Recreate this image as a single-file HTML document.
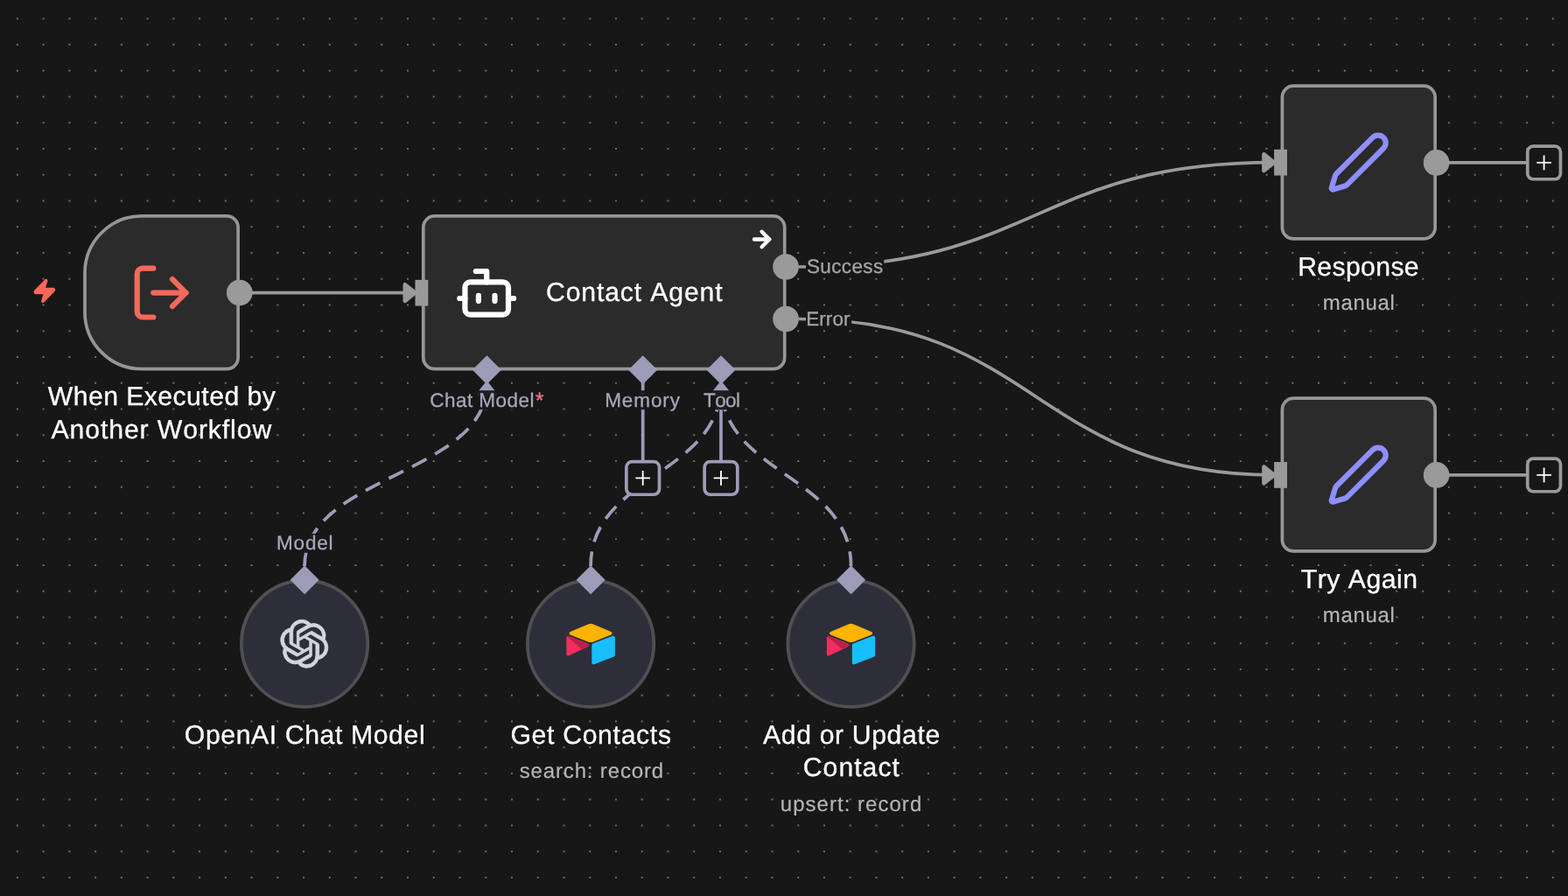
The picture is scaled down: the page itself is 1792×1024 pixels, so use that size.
<!DOCTYPE html>
<html lang="en">
<head>
<meta charset="utf-8">
<title>Contact Agent workflow</title>
<style>
html,body{margin:0;padding:0;background:#171717;overflow:hidden}
body{width:1792px;height:1024px;font-family:"Liberation Sans", Arial, sans-serif}
svg{display:block;will-change:transform}
.txt{will-change:transform}
text{font-family:"Liberation Sans", Arial, sans-serif;font-kerning:none;white-space:pre;text-rendering:geometricPrecision}
</style>
</head>
<body>
<svg width="1792" height="1024" viewBox="0 0 1792 1024">
<defs>
<pattern id="dots" x="4.98" y="6.43" width="29.745" height="29.745" patternUnits="userSpaceOnUse"><circle cx="14.87" cy="14.87" r="1.0" fill="#8a8a8a"/></pattern>
</defs>
<rect width="1792" height="1024" fill="#171717"/>
<rect width="1792" height="1024" fill="url(#dots)"/>
<g fill="none" stroke-width="3.72">
<path d="M287.94,334.53 L474.46,334.53" stroke="#9a9a9a"/>
<path d="M912.97,305 C1184.54,305 1184.54,185.7 1456.11,185.7" stroke="#9a9a9a"/>
<path d="M912.97,364.5 C1184.54,364.5 1184.54,542.9 1456.11,542.9" stroke="#9a9a9a"/>
<path d="M1642.01,185.8 L1745,185.8" stroke="#9a9a9a"/>
<path d="M1642.01,542.9 L1745,542.9" stroke="#9a9a9a"/>
<path d="M348.1,646.9 C348.1,542.8 556.4,542.8 556.4,438.7" stroke="#9c9cb8" stroke-dasharray="18.59 11.15" stroke-dashoffset="1.86"/>
<path d="M675.1,646.9 C675.1,542.8 824,542.8 824,438.7" stroke="#9c9cb8" stroke-dasharray="18.59 11.15" stroke-dashoffset="1.86"/>
<path d="M972.6,646.9 C972.6,542.8 824,542.8 824,438.7" stroke="#9c9cb8" stroke-dasharray="18.59 11.15" stroke-dashoffset="1.86"/>
<path d="M734.7,436.7 L734.7,527" stroke="#9c9cb8"/>
<path d="M824,436.7 L824,527" stroke="#9c9cb8"/>
</g>
<polyline transform="translate(474.46,334.53) rotate(0)" points="-11.62,-9.29 0,0 -11.62,9.29 -11.62,-9.29" fill="#9a9a9a" stroke="#9a9a9a" stroke-width="4.65" stroke-linecap="round" stroke-linejoin="round"/>
<polyline transform="translate(1456.11,185.7) rotate(0)" points="-11.62,-9.29 0,0 -11.62,9.29 -11.62,-9.29" fill="#9a9a9a" stroke="#9a9a9a" stroke-width="4.65" stroke-linecap="round" stroke-linejoin="round"/>
<polyline transform="translate(1456.11,542.9) rotate(0)" points="-11.62,-9.29 0,0 -11.62,9.29 -11.62,-9.29" fill="#9a9a9a" stroke="#9a9a9a" stroke-width="4.65" stroke-linecap="round" stroke-linejoin="round"/>
<polyline transform="translate(556.4,438.7) rotate(-90)" points="-11.62,-9.29 0,0 -11.62,9.29 -11.62,-9.29" fill="#9c9cb8" stroke="#9c9cb8" stroke-width="4.65" stroke-linecap="round" stroke-linejoin="round"/>
<polyline transform="translate(824,438.7) rotate(-90)" points="-11.62,-9.29 0,0 -11.62,9.29 -11.62,-9.29" fill="#9c9cb8" stroke="#9c9cb8" stroke-width="4.65" stroke-linecap="round" stroke-linejoin="round"/>
<rect x="715.86" y="527.56" width="37.68" height="37.68" rx="6.54" fill="#171717" stroke="#9c9cb8" stroke-width="3.72"/>
<path d="M726.4,546.4 H743 M734.7,538.1 V554.7" stroke="#ffffff" stroke-width="1.85" fill="none"/>
<rect x="805.16" y="527.56" width="37.68" height="37.68" rx="6.54" fill="#171717" stroke="#9c9cb8" stroke-width="3.72"/>
<path d="M815.7,546.4 H832.3 M824,538.1 V554.7" stroke="#ffffff" stroke-width="1.85" fill="none"/>
<rect x="1745.76" y="167.06" width="37.68" height="37.68" rx="6.54" fill="#171717" stroke="#9a9a9a" stroke-width="3.72"/>
<path d="M1756.3,185.9 H1772.9 M1764.6,177.6 V194.2" stroke="#ffffff" stroke-width="1.85" fill="none"/>
<rect x="1745.76" y="524.06" width="37.68" height="37.68" rx="6.54" fill="#171717" stroke="#9a9a9a" stroke-width="3.72"/>
<path d="M1756.3,542.9 H1772.9 M1764.6,534.6 V551.2" stroke="#ffffff" stroke-width="1.85" fill="none"/>
<path d="M162.02,246.96 H259.09 A13.01,13.01 0 0 1 272.11,259.97 V408.69 A13.01,13.01 0 0 1 259.09,421.7 H162.02 A65.07,65.07 0 0 1 96.96,356.64 V312.02 A65.07,65.07 0 0 1 162.02,246.96 Z" fill="#2b2b2b" stroke="#969696" stroke-width="3.72"/>
<path d="M496.77,246.96 H883.73 A13.01,13.01 0 0 1 896.74,259.97 V408.69 A13.01,13.01 0 0 1 883.73,421.7 H496.77 A13.01,13.01 0 0 1 483.76,408.69 V259.97 A13.01,13.01 0 0 1 496.77,246.96 Z" fill="#2b2b2b" stroke="#969696" stroke-width="3.72"/>
<path d="M1478.42,98.21 H1627.14 A13.01,13.01 0 0 1 1640.15,111.22 V259.94 A13.01,13.01 0 0 1 1627.14,272.95 H1478.42 A13.01,13.01 0 0 1 1465.41,259.94 V111.22 A13.01,13.01 0 0 1 1478.42,98.21 Z" fill="#2b2b2b" stroke="#969696" stroke-width="3.72"/>
<path d="M1478.42,455.16 H1627.14 A13.01,13.01 0 0 1 1640.15,468.17 V616.89 A13.01,13.01 0 0 1 1627.14,629.9 H1478.42 A13.01,13.01 0 0 1 1465.41,616.89 V468.17 A13.01,13.01 0 0 1 1478.42,455.16 Z" fill="#2b2b2b" stroke="#969696" stroke-width="3.72"/>
<circle cx="348.1" cy="735.65" r="72.19" fill="#2e2e3b" stroke="#505053" stroke-width="3.72"/>
<circle cx="675.1" cy="735.65" r="72.19" fill="#2e2e3b" stroke="#505053" stroke-width="3.72"/>
<circle cx="972.6" cy="735.65" r="72.19" fill="#2e2e3b" stroke="#505053" stroke-width="3.72"/>
<rect x="474.46" y="319.86" width="14.87" height="29.74" fill="#9a9a9a"/>
<rect x="1456.11" y="170.83" width="14.87" height="29.74" fill="#9a9a9a"/>
<rect x="1456.11" y="528.03" width="14.87" height="29.74" fill="#9a9a9a"/>
<circle cx="273.76" cy="334.53" r="14.87" fill="#9a9a9a"/>
<circle cx="898.1" cy="305" r="14.87" fill="#9a9a9a"/>
<circle cx="898.1" cy="364.5" r="14.87" fill="#9a9a9a"/>
<circle cx="1641.61" cy="185.9" r="14.87" fill="#9a9a9a"/>
<circle cx="1641.61" cy="542.9" r="14.87" fill="#9a9a9a"/>
<path d="M556.4,406.35 L572.9,422.85 L556.4,439.35 L539.9,422.85 Z" fill="#9c9cb8"/>
<path d="M734.7,406.35 L751.2,422.85 L734.7,439.35 L718.2,422.85 Z" fill="#9c9cb8"/>
<path d="M824,406.35 L840.5,422.85 L824,439.35 L807.5,422.85 Z" fill="#9c9cb8"/>
<path d="M348.1,646.2 L364.6,662.7 L348.1,679.2 L331.6,662.7 Z" fill="#9c9cb8"/>
<path d="M675.1,646.2 L691.6,662.7 L675.1,679.2 L658.6,662.7 Z" fill="#9c9cb8"/>
<path d="M972.6,646.2 L989.1,662.7 L972.6,679.2 L956.1,662.7 Z" fill="#9c9cb8"/>
<g transform="translate(147.42,297.42) scale(3.0983)" fill="none" stroke="#f8685a" stroke-width="2" stroke-linecap="round" stroke-linejoin="round"><path d="m16 17 5-5-5-5"/><path d="M21 12H9"/><path d="M9 21H5a2 2 0 0 1-2-2V5a2 2 0 0 1 2-2h4"/></g>
<g transform="translate(519.02,297.62) scale(3.0983)" fill="none" stroke="#ffffff" stroke-width="2" stroke-linecap="round" stroke-linejoin="round"><path d="M12 8V4H8"/><rect width="16" height="12" x="4" y="8" rx="2"/><path d="M2 14h2"/><path d="M20 14h2"/><path d="M15 13v2"/><path d="M9 13v2"/></g>
<g transform="translate(1515.52,148.42) scale(3.0983)" fill="none" stroke="#8e8eff" stroke-width="2" stroke-linecap="round" stroke-linejoin="round"><path d="M21.174 6.812a1 1 0 0 0-3.986-3.987L3.842 16.174a2 2 0 0 0-.5.83l-1.321 4.352a.5.5 0 0 0 .623.622l4.353-1.32a2 2 0 0 0 .83-.497z"/></g>
<g transform="translate(1515.52,505.42) scale(3.0983)" fill="none" stroke="#8e8eff" stroke-width="2" stroke-linecap="round" stroke-linejoin="round"><path d="M21.174 6.812a1 1 0 0 0-3.986-3.987L3.842 16.174a2 2 0 0 0-.5.83l-1.321 4.352a.5.5 0 0 0 .623.622l4.353-1.32a2 2 0 0 0 .83-.497z"/></g>
<g transform="translate(35.93,317.63) scale(1.2393)" fill="#f8685a" stroke="#f8685a" stroke-width="2" stroke-linecap="round" stroke-linejoin="round"><path d="M4 14a1 1 0 0 1-.78-1.63l9.9-10.2a.5.5 0 0 1 .86.46l-1.92 6.02A1 1 0 0 0 13 10h7a1 1 0 0 1 .78 1.63l-9.9 10.2a.5.5 0 0 1-.86-.46l1.92-6.02A1 1 0 0 0 11 14z"/></g>
<g transform="translate(855.73,258.63) scale(1.2393)" fill="none" stroke="#ffffff" stroke-width="3.5" stroke-linecap="round" stroke-linejoin="round"><path d="M5 12h14"/><path d="m12 5 7 7-7 7"/></g>
<g transform="translate(320.37,708.32) scale(2.2862)"><path d="M22.2819 9.8211a5.9847 5.9847 0 0 0-.5157-4.9108 6.0462 6.0462 0 0 0-6.5098-2.9A6.0651 6.0651 0 0 0 4.9807 4.1818a5.9847 5.9847 0 0 0-3.9977 2.9 6.0462 6.0462 0 0 0 .7427 7.0966 5.98 5.98 0 0 0 .511 4.9107 6.051 6.051 0 0 0 6.5146 2.9001A5.9847 5.9847 0 0 0 13.2599 24a6.0557 6.0557 0 0 0 5.7718-4.2058 5.9894 5.9894 0 0 0 3.9977-2.9001 6.0557 6.0557 0 0 0-.7475-7.0729zm-9.022 12.6081a4.4755 4.4755 0 0 1-2.8764-1.0408l.1419-.0804 4.7783-2.7582a.7948.7948 0 0 0 .3927-.6813v-6.7369l2.02 1.1686a.071.071 0 0 1 .038.052v5.5826a4.504 4.504 0 0 1-4.4945 4.4944zm-9.6607-4.1254a4.4708 4.4708 0 0 1-.5346-3.0137l.142.0852 4.783 2.7582a.7712.7712 0 0 0 .7806 0l5.8428-3.3685v2.3324a.0804.0804 0 0 1-.0332.0615L9.74 19.9502a4.4992 4.4992 0 0 1-6.1408-1.6464zM2.3408 7.8956a4.485 4.485 0 0 1 2.3655-1.9728V11.6a.7664.7664 0 0 0 .3879.6765l5.8144 3.3543-2.0201 1.1685a.0757.0757 0 0 1-.071 0l-4.8303-2.7865A4.504 4.504 0 0 1 2.3408 7.872zm16.5963 3.8558L13.1038 8.364 15.1192 7.2a.0757.0757 0 0 1 .071 0l4.8303 2.7913a4.4944 4.4944 0 0 1-.6765 8.1042v-5.6772a.79.79 0 0 0-.407-.667zm2.0107-3.0231l-.142-.0852-4.7735-2.7818a.7759.7759 0 0 0-.7854 0L9.409 9.2297V6.8974a.0662.0662 0 0 1 .0284-.0615l4.8303-2.7866a4.4992 4.4992 0 0 1 6.6802 4.66zM8.3065 12.863l-2.02-1.1638a.0804.0804 0 0 1-.038-.0567V6.0742a4.4992 4.4992 0 0 1 7.3757-3.4537l-.142.0805L8.704 5.459a.7948.7948 0 0 0-.3927.6813zm1.0976-2.3654l2.602-1.4998 2.6069 1.4998v2.9994l-2.5974 1.4997-2.6067-1.4997Z" fill="#d4d4e0" stroke="#d4d4e0" stroke-width="0.4" stroke-linejoin="round"/></g>
<g transform="translate(647.91,713.42) scale(0.21241)" stroke-width="5" stroke-linejoin="round"><path d="M114.259 2.701 18.86 42.176c-5.305 2.195-5.25 9.73.089 11.847l95.797 37.989a35.544 35.544 0 0 0 26.208 0l95.799-37.99c5.337-2.115 5.393-9.65.086-11.846L141.442 2.7a35.549 35.549 0 0 0-27.183 0" fill="#FCB400" stroke="#FCB400"/><path d="M136.35 112.757v94.902c0 4.514 4.55 7.605 8.746 5.942l106.748-41.435a6.39 6.39 0 0 0 4.035-5.941V71.322c0-4.514-4.551-7.604-8.747-5.941l-106.748 41.434a6.392 6.392 0 0 0-4.035 5.942" fill="#18BFFF" stroke="#18BFFF"/><path d="m111.423 117.654-31.68 15.296-3.217 1.555L9.65 166.548C5.411 168.593 0 165.504 0 160.795V71.72c0-1.704.874-3.175 2.045-4.283a7.266 7.266 0 0 1 1.618-1.213c1.598-.959 3.878-1.215 5.816-.448l101.41 40.18c5.155 2.045 5.56 9.268.534 11.697" fill="#F82B60" stroke="#F82B60"/><path d="m111.423 117.654-31.68 15.296L2.045 67.438a7.266 7.266 0 0 1 1.618-1.213c1.598-.959 3.878-1.215 5.816-.448l101.41 40.18c5.155 2.045 5.56 9.268.534 11.697" fill="#000" fill-opacity=".25"/></g>
<g transform="translate(945.41,713.42) scale(0.21241)" stroke-width="5" stroke-linejoin="round"><path d="M114.259 2.701 18.86 42.176c-5.305 2.195-5.25 9.73.089 11.847l95.797 37.989a35.544 35.544 0 0 0 26.208 0l95.799-37.99c5.337-2.115 5.393-9.65.086-11.846L141.442 2.7a35.549 35.549 0 0 0-27.183 0" fill="#FCB400" stroke="#FCB400"/><path d="M136.35 112.757v94.902c0 4.514 4.55 7.605 8.746 5.942l106.748-41.435a6.39 6.39 0 0 0 4.035-5.941V71.322c0-4.514-4.551-7.604-8.747-5.941l-106.748 41.434a6.392 6.392 0 0 0-4.035 5.942" fill="#18BFFF" stroke="#18BFFF"/><path d="m111.423 117.654-31.68 15.296-3.217 1.555L9.65 166.548C5.411 168.593 0 165.504 0 160.795V71.72c0-1.704.874-3.175 2.045-4.283a7.266 7.266 0 0 1 1.618-1.213c1.598-.959 3.878-1.215 5.816-.448l101.41 40.18c5.155 2.045 5.56 9.268.534 11.697" fill="#F82B60" stroke="#F82B60"/><path d="m111.423 117.654-31.68 15.296L2.045 67.438a7.266 7.266 0 0 1 1.618-1.213c1.598-.959 3.878-1.215 5.816-.448l101.41 40.18c5.155 2.045 5.56 9.268.534 11.697" fill="#000" fill-opacity=".25"/></g>
<g class="txt">
<rect x="489.5" y="446.2" width="134" height="22" fill="#171717" fill-opacity="0.94"/>
<rect x="690.2" y="446.2" width="89.6" height="22" fill="#171717" fill-opacity="0.94"/>
<rect x="801.7" y="446.2" width="45.6" height="22" fill="#171717" fill-opacity="0.94"/>
<text x="491.16" y="464.6" font-size="22.5" letter-spacing="0.488" fill="#a6a6ba" stroke="#a6a6ba" stroke-width="0.3">Chat Model<tspan fill="#f4728a" stroke="#f4728a" stroke-width="0.35" font-size="25" dx="0.6" dy="1.0">*</tspan></text>
<text x="691.15" y="464.6" font-size="22.5" letter-spacing="0.927" fill="#a6a6ba" stroke="#a6a6ba" stroke-width="0.3">Memory</text>
<text x="803.99" y="464.6" font-size="22.5" letter-spacing="-0.586" fill="#a6a6ba" stroke="#a6a6ba" stroke-width="0.3">Tool</text>
<rect x="315" y="609.8" width="67" height="22" fill="#171717" fill-opacity="0.94"/>
<text x="315.95" y="628.3" font-size="22.5" letter-spacing="0.842" fill="#a6a6ba" stroke="#a6a6ba" stroke-width="0.3">Model</text>
<rect x="921" y="293" width="89.3" height="23.5" fill="#171717" fill-opacity="1"/>
<rect x="921" y="352.6" width="52.2" height="23.5" fill="#171717" fill-opacity="1"/>
<text x="921.98" y="312.1" font-size="22.5" letter-spacing="0.367" fill="#a3a3a3" stroke="#a3a3a3" stroke-width="0.3">Success</text>
<text x="921.15" y="371.5" font-size="22.5" letter-spacing="0.105" fill="#a3a3a3" stroke="#a3a3a3" stroke-width="0.3">Error</text>
<text x="54.87" y="463.3" font-size="30.2" letter-spacing="0.434" fill="#ffffff" stroke="#ffffff" stroke-width="0.3">When Executed by</text>
<text x="58.54" y="500.5" font-size="30.2" letter-spacing="0.897" fill="#ffffff" stroke="#ffffff" stroke-width="0.3">Another Workflow</text>
<text x="623.97" y="344.1" font-size="30.2" letter-spacing="0.864" fill="#ffffff" stroke="#ffffff" stroke-width="0.3">Contact Agent</text>
<text x="1483.17" y="314.75" font-size="30.2" letter-spacing="0.362" fill="#ffffff" stroke="#ffffff" stroke-width="0.3">Response</text>
<text x="1511.81" y="353.75" font-size="24" letter-spacing="0.657" fill="#b4b4b4" stroke="#b4b4b4" stroke-width="0.2">manual</text>
<text x="1486.72" y="671.9" font-size="30.2" letter-spacing="0.513" fill="#ffffff" stroke="#ffffff" stroke-width="0.3">Try Again</text>
<text x="1511.81" y="710.6" font-size="24" letter-spacing="0.657" fill="#b4b4b4" stroke="#b4b4b4" stroke-width="0.2">manual</text>
<text x="210.87" y="850.1" font-size="30.2" letter-spacing="0.601" fill="#ffffff" stroke="#ffffff" stroke-width="0.3">OpenAI Chat Model</text>
<text x="583.48" y="850.2" font-size="30.2" letter-spacing="0.670" fill="#ffffff" stroke="#ffffff" stroke-width="0.3">Get Contacts</text>
<text x="593.73" y="889.1" font-size="24" letter-spacing="0.847" fill="#b4b4b4" stroke="#b4b4b4" stroke-width="0.2">search: record</text>
<text x="872.04" y="850.2" font-size="30.2" letter-spacing="0.629" fill="#ffffff" stroke="#ffffff" stroke-width="0.3">Add or Update</text>
<text x="917.77" y="887.4" font-size="30.2" letter-spacing="1.013" fill="#ffffff" stroke="#ffffff" stroke-width="0.3">Contact</text>
<text x="891.84" y="926.5" font-size="24" letter-spacing="1.026" fill="#b4b4b4" stroke="#b4b4b4" stroke-width="0.2">upsert: record</text>
</g>
</svg>
</body>
</html>
